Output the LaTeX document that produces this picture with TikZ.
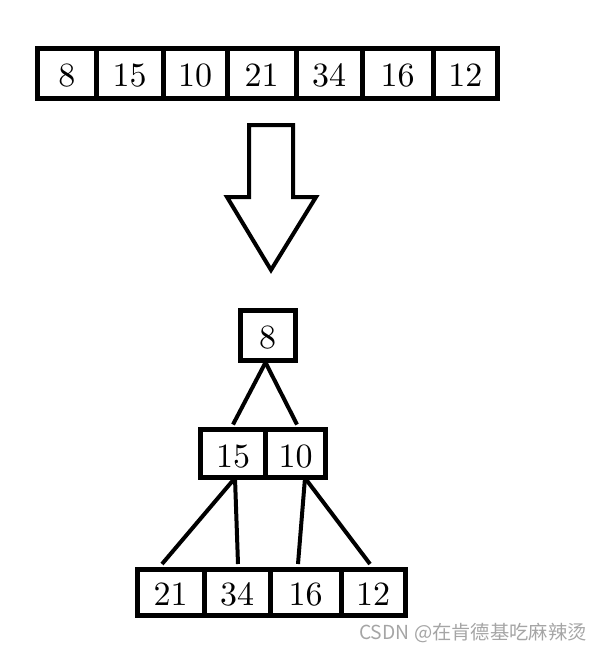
\documentclass[tikz,border=0pt]{standalone}
\usepackage{fontspec}
\setmainfont{lmroman10-regular.otf}
\newfontfamily\cjk{Noto Sans CJK SC}
\definecolor{wmgray}{RGB}{165,165,165}
\tikzset{
  cell/.style={draw=black, line width=5pt, fill=white, inner sep=0pt,
    font=\fontsize{34}{38}\selectfont, text height=27pt, text depth=0pt},
  edge/.style={draw=black, line width=4pt},
  bigarrow/.style={draw=black, line width=4pt, line join=miter, fill=white}
}
\begin{document}
\begin{tikzpicture}[x=1pt,y=-1pt]
\useasboundingbox (0,0) rectangle (602,654);
% top array
\node[cell, minimum width=58.5, minimum height=49.5] (t1) at (66.75,73.25) {8};
\node[cell, minimum width=67, minimum height=49.5] (t2) at (129.5,73.25) {15};
\node[cell, minimum width=64, minimum height=49.5] (t3) at (195,73.25) {10};
\node[cell, minimum width=69, minimum height=49.5] (t4) at (261.5,73.25) {21};
\node[cell, minimum width=66, minimum height=49.5] (t5) at (329,73.25) {34};
\node[cell, minimum width=71, minimum height=49.5] (t6) at (397.5,73.25) {16};
\node[cell, minimum width=64.5, minimum height=49.5] (t7) at (465.25,73.25) {12};
% big arrow
\draw[bigarrow] (249,125) -- (293,125) -- (293,197) -- (316,197) -- (271,270) -- (227,197) -- (249,197) -- cycle;
% tree
\node[cell, minimum width=55, minimum height=50] (root) at (267.5,335) {8};
\node[cell, minimum width=65, minimum height=48] (l1) at (233,453.5) {15};
\node[cell, minimum width=60, minimum height=48] (r1) at (295.5,453.5) {10};
\node[cell, minimum width=67, minimum height=46] (c1) at (170.5,592) {21};
\node[cell, minimum width=66, minimum height=46] (c2) at (237,592) {34};
\node[cell, minimum width=71, minimum height=46] (c3) at (305.5,592) {16};
\node[cell, minimum width=64, minimum height=46] (c4) at (373,592) {12};
\draw[edge] ([xshift=-2pt]root.south) -- ([yshift=2.5pt]l1.north);
\draw[edge] ([xshift=-2pt]root.south) -- ([xshift=1.5pt,yshift=2.5pt]r1.north);
\draw[edge] ([xshift=2pt,yshift=2pt]l1.south) -- ([xshift=-8.5pt,yshift=2.5pt]c1.north);
\draw[edge] ([xshift=2pt,yshift=2pt]l1.south) -- ([xshift=1pt,yshift=2.5pt]c2.north);
\draw[edge] ([xshift=9.5pt,yshift=2pt]r1.south) -- ([xshift=-7.5pt,yshift=2.5pt]c3.north);
\draw[edge] ([xshift=9.5pt,yshift=2pt]r1.south) -- ([xshift=-3pt,yshift=2.5pt]c4.north);
% watermark
\node[anchor=west, inner sep=0pt, text=wmgray, font=\cjk\fontsize{19.3}{22}\selectfont] (wm) at (359,633) {CSDN @在肯德基吃麻辣烫};
\end{tikzpicture}
\end{document}
